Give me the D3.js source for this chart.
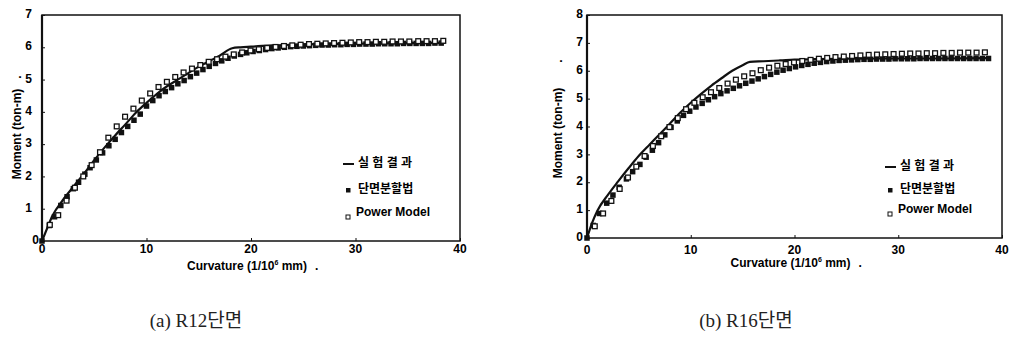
<!DOCTYPE html>
<html>
<head>
<meta charset="utf-8">
<script src="https://cdn.jsdelivr.net/npm/d3@7"></script>
<style>
  body { margin: 0; background: #fff; }
  svg { display: block; }
  .tick-label { font-family: "Liberation Sans", Arial, sans-serif; font-weight: 700; font-size: 12px; fill: #000; }
  .axis-title { font-family: "Liberation Sans", Arial, sans-serif; font-weight: 700; font-size: 12px; fill: #000; }
  .legend-text { font-family: "Liberation Sans", "Noto Sans CJK KR", sans-serif; font-weight: 700; font-size: 12px; fill: #000; }
  .caption { font-family: "Liberation Serif", "Noto Sans CJK KR", serif; font-size: 19px; fill: #222; }
</style>
</head>
<body>
<div id="chart"></div>
<script>
const xTicks = [0, 10, 20, 30, 40];
const r12YTicks = [0, 1, 2, 3, 4, 5, 6, 7];
const r16YTicks = [0, 1, 2, 3, 4, 5, 6, 7, 8];
const legendLabels = ['실 험 결 과', '단면분할법', 'Power Model'];
const captions = ['(a) R12단면', '(b) R16단면'];

// R12 - test result (solid line)
const r12TestX = [0, 0.5, 1, 2, 3, 4, 5, 6, 7, 8, 9, 10, 11, 12, 13, 14, 15, 16, 17, 18.2, 19, 20, 22, 25, 30, 35, 38.6];
const r12TestY = [0, 0.4, 0.78, 1.27, 1.68, 2.08, 2.5, 2.9, 3.27, 3.62, 3.98, 4.28, 4.56, 4.8, 5.0, 5.2, 5.4, 5.57, 5.74, 5.97, 6.0, 6.02, 6.06, 6.09, 6.11, 6.13, 6.14];
// R12 - section division method (filled squares)
const r12FiberX = [0, 0.7, 1.2, 1.8, 2.4, 3.0, 3.5, 4.1, 4.6, 5.2, 5.8, 6.4, 7.0, 7.6, 8.2, 8.8, 9.4, 10.0, 10.6, 11.2, 11.8, 12.4, 13.0, 13.6, 14.2, 14.8, 15.4, 16.0, 16.6, 17.2, 17.8, 18.4, 19.0, 19.6, 20.2, 20.8, 21.4, 22.0, 22.6, 23.2, 23.8, 24.4, 25.0, 25.6, 26.2, 26.8, 27.4, 28.0, 28.6, 29.2, 29.8, 30.4, 31.0, 31.6, 32.2, 32.8, 33.4, 34.0, 34.6, 35.2, 35.8, 36.4, 37.0, 37.6, 38.2];
const r12FiberY = [0, 0.48, 0.75, 1.1, 1.37, 1.62, 1.82, 2.07, 2.27, 2.51, 2.73, 2.95, 3.15, 3.36, 3.55, 3.74, 3.93, 4.18, 4.35, 4.5, 4.63, 4.75, 4.87, 4.97, 5.09, 5.2, 5.31, 5.41, 5.5, 5.58, 5.66, 5.73, 5.78, 5.83, 5.87, 5.9, 5.93, 5.96, 5.98, 6.0, 6.02, 6.03, 6.04, 6.05, 6.06, 6.07, 6.07, 6.08, 6.08, 6.09, 6.09, 6.1, 6.1, 6.1, 6.11, 6.11, 6.11, 6.11, 6.12, 6.12, 6.12, 6.12, 6.12, 6.13, 6.13];
// R12 - power model (open squares)
const r12PowerX = [0.75, 1.55, 2.35, 3.15, 3.95, 4.75, 5.55, 6.35, 7.15, 7.95, 8.75, 9.55, 10.35, 11.15, 11.95, 12.75, 13.55, 14.35, 15.15, 15.95, 16.75, 17.55, 18.35, 19.15, 19.95, 20.75, 21.55, 22.35, 23.15, 23.95, 24.75, 25.55, 26.35, 27.15, 27.95, 28.75, 29.55, 30.35, 31.15, 31.95, 32.75, 33.55, 34.35, 35.15, 36.0, 36.8, 37.6, 38.4];
const r12PowerY = [0.5, 0.8, 1.25, 1.65, 2.0, 2.35, 2.75, 3.2, 3.55, 3.85, 4.1, 4.35, 4.57, 4.77, 4.93, 5.08, 5.22, 5.34, 5.45, 5.55, 5.63, 5.71, 5.78, 5.84, 5.9, 5.94, 5.98, 6.01, 6.04, 6.06, 6.08, 6.1, 6.11, 6.12, 6.13, 6.14, 6.15, 6.16, 6.16, 6.17, 6.17, 6.18, 6.18, 6.18, 6.19, 6.19, 6.19, 6.2];

// R16 - test result (solid line)
const r16TestX = [0, 0.5, 1, 2, 3, 4, 5, 6, 7, 8, 9, 10, 11, 12, 13, 14, 15, 15.7, 17, 18.6, 20, 22, 25, 30, 35, 38.8];
const r16TestY = [0, 0.55, 0.98, 1.54, 2.03, 2.5, 2.95, 3.34, 3.72, 4.11, 4.5, 4.85, 5.17, 5.47, 5.74, 6.0, 6.2, 6.32, 6.34, 6.37, 6.4, 6.42, 6.43, 6.44, 6.44, 6.45];
// R16 - section division method (filled squares)
const r16FiberX = [0, 0.6, 1.2, 1.9, 2.5, 3.1, 3.8, 4.4, 5.1, 5.7, 6.3, 6.9, 7.5, 8.1, 8.7, 9.3, 9.9, 10.5, 11.1, 11.7, 12.3, 12.9, 13.5, 14.1, 14.7, 15.3, 15.9, 16.5, 17.1, 17.7, 18.3, 18.9, 19.5, 20.1, 20.7, 21.3, 21.9, 22.5, 23.1, 23.7, 24.3, 24.9, 25.5, 26.1, 26.7, 27.3, 27.9, 28.5, 29.1, 29.7, 30.3, 30.9, 31.5, 32.1, 32.7, 33.3, 33.9, 34.5, 35.1, 35.7, 36.3, 36.9, 37.5, 38.1, 38.7];
const r16FiberY = [0, 0.45, 0.88, 1.25, 1.54, 1.82, 2.12, 2.38, 2.64, 2.9, 3.15, 3.42, 3.7, 3.97, 4.2, 4.4, 4.55, 4.7, 4.83, 4.96, 5.07, 5.18, 5.28, 5.37, 5.46, 5.55, 5.63, 5.71, 5.79, 5.87, 5.95, 6.02, 6.08, 6.14, 6.19, 6.23, 6.27, 6.3, 6.33, 6.35, 6.37, 6.38, 6.39, 6.4, 6.41, 6.41, 6.42, 6.42, 6.42, 6.43, 6.43, 6.43, 6.43, 6.44, 6.44, 6.44, 6.44, 6.44, 6.44, 6.44, 6.44, 6.44, 6.44, 6.44, 6.44];
// R16 - power model (open squares)
const r16PowerX = [0.75, 1.55, 2.35, 3.15, 3.95, 4.75, 5.55, 6.35, 7.15, 7.95, 8.75, 9.55, 10.35, 11.15, 11.95, 12.75, 13.55, 14.35, 15.15, 15.95, 16.75, 17.55, 18.35, 19.15, 19.95, 20.75, 21.55, 22.35, 23.15, 23.95, 24.75, 25.55, 26.35, 27.15, 27.95, 28.75, 29.55, 30.35, 31.15, 31.95, 32.75, 33.55, 34.35, 35.15, 35.95, 36.75, 37.55, 38.35];
const r16PowerY = [0.42, 0.88, 1.33, 1.76, 2.17, 2.56, 2.94, 3.3, 3.65, 3.98, 4.3, 4.62, 4.85, 5.05, 5.23, 5.38, 5.54, 5.68, 5.8, 5.91, 6.02, 6.11, 6.18, 6.24, 6.3, 6.35, 6.39, 6.43, 6.46, 6.49, 6.51, 6.53, 6.55, 6.57, 6.58, 6.59, 6.6, 6.61, 6.62, 6.62, 6.63, 6.63, 6.64, 6.64, 6.65, 6.65, 6.65, 6.66];

const zip = (xs, ys) => xs.map((x, i) => ({ x, y: ys[i] }));

const width = 1010;
const height = 349;

const svg = d3.select('#chart')
  .append('svg')
  .attr('width', width)
  .attr('height', height);

const panels = [
  {
    left: 42, right: 460, top: 15, bottom: 241, yMax: 7, yTicks: r12YTicks,
    test: zip(r12TestX, r12TestY), fiber: zip(r12FiberX, r12FiberY), power: zip(r12PowerX, r12PowerY),
    yLabelOffset: 10, zeroLabelOffset: 3, xLabelY: 250, xTitleY: 267, yTitleX: 18, yTitleY: 134, yDotY: 77,
    legendTop: 164, legendGap: 26, caption: captions[0], captionX: 196
  },
  {
    left: 587, right: 1002, top: 15, bottom: 238, yMax: 8, yTicks: r16YTicks,
    test: zip(r16TestX, r16TestY), fiber: zip(r16FiberX, r16FiberY), power: zip(r16PowerX, r16PowerY),
    yLabelOffset: 4, zeroLabelOffset: 4, xLabelY: 251, xTitleY: 264, yTitleX: 559, yTitleY: 133, yDotY: 61,
    legendTop: 167, legendGap: 23, caption: captions[1], captionX: 746
  }
];

panels.forEach((p) => {
  const x = d3.scaleLinear().domain([0, 40]).range([p.left, p.right]);
  const y = d3.scaleLinear().domain([0, p.yMax]).range([p.bottom, p.top]);
  const g = svg.append('g');

  // frame
  g.append('rect')
    .attr('x', p.left).attr('y', p.top)
    .attr('width', p.right - p.left).attr('height', p.bottom - p.top)
    .attr('fill', 'none').attr('stroke', '#111').attr('stroke-width', 1.5);
  g.append('line')
    .attr('x1', p.left).attr('x2', p.left)
    .attr('y1', p.top).attr('y2', p.bottom)
    .attr('stroke', '#111').attr('stroke-width', 2.2);

  // tick marks
  g.append('g')
    .attr('transform', `translate(0,${p.bottom})`)
    .call(d3.axisTop(x).tickValues(xTicks).tickSize(3).tickFormat(''))
    .call((a) => a.select('.domain').remove())
    .selectAll('line').attr('stroke', '#111');

  g.append('g')
    .attr('transform', `translate(${p.left},0)`)
    .call(d3.axisRight(y).tickValues(p.yTicks).tickSize(3).tickFormat(''))
    .call((a) => a.select('.domain').remove())
    .selectAll('line').attr('stroke', '#111');

  g.selectAll('.xlab')
    .data(xTicks)
    .join('text')
    .attr('class', 'tick-label')
    .attr('x', (d) => x(d))
    .attr('y', p.xLabelY)
    .attr('text-anchor', 'middle')
    .attr('dominant-baseline', 'middle')
    .text((d) => d);

  g.selectAll('.ylab')
    .data(p.yTicks)
    .join('text')
    .attr('class', 'tick-label')
    .attr('x', (d) => p.left - (d === 0 ? p.zeroLabelOffset : p.yLabelOffset))
    .attr('y', (d) => y(d))
    .attr('text-anchor', 'end')
    .attr('dominant-baseline', 'middle')
    .text((d) => d);

  // axis titles
  const cx = (p.left + p.right) / 2 - 4;
  const xt = g.append('text')
    .attr('class', 'axis-title')
    .attr('x', cx)
    .attr('y', p.xTitleY)
    .attr('text-anchor', 'middle')
    .attr('dominant-baseline', 'middle');
  xt.append('tspan').text('Curvature (1/10');
  xt.append('tspan').attr('font-size', 7).attr('dy', -4).text('6');
  xt.append('tspan').attr('dy', 4).text(' mm)');
  const xtBox = xt.node().getBBox();
  g.append('text')
    .attr('class', 'axis-title')
    .attr('x', xtBox.x + xtBox.width + 8)
    .attr('y', p.xTitleY)
    .attr('dominant-baseline', 'middle')
    .text('.');

  g.append('text')
    .attr('class', 'axis-title')
    .attr('transform', `translate(${p.yTitleX},${p.yTitleY}) rotate(-90)`)
    .attr('text-anchor', 'middle')
    .attr('dominant-baseline', 'middle')
    .text('Moment (ton-m)');
  g.append('text')
    .attr('class', 'axis-title')
    .attr('transform', `translate(${p.yTitleX},${p.yDotY}) rotate(-90)`)
    .attr('text-anchor', 'middle')
    .attr('dominant-baseline', 'middle')
    .text('.');

  // test result line
  const line = d3.line().x((d) => x(d.x)).y((d) => y(d.y)).curve(d3.curveMonotoneX);
  g.append('path')
    .datum(p.test)
    .attr('d', line)
    .attr('fill', 'none')
    .attr('stroke', '#111')
    .attr('stroke-width', 2.2);

  // section division method - filled squares
  const s = 5.5;
  g.selectAll('.fiber')
    .data(p.fiber)
    .join('rect')
    .attr('x', (d) => x(d.x) - s / 2)
    .attr('y', (d) => y(d.y) - s / 2)
    .attr('width', s).attr('height', s)
    .attr('fill', '#111');

  // power model - open squares
  const o = 4.8;
  g.selectAll('.power')
    .data(p.power)
    .join('rect')
    .attr('x', (d) => x(d.x) - o / 2)
    .attr('y', (d) => y(d.y) - o / 2)
    .attr('width', o).attr('height', o)
    .attr('fill', '#fff')
    .attr('stroke', '#111')
    .attr('stroke-width', 1.3);

  // legend
  const lx = p.right - 117;
  const lg = g.append('g');
  lg.append('line')
    .attr('x1', lx).attr('x2', lx + 11)
    .attr('y1', p.legendTop).attr('y2', p.legendTop)
    .attr('stroke', '#111').attr('stroke-width', 2);
  lg.append('rect')
    .attr('x', lx + 3).attr('y', p.legendTop + p.legendGap - 2)
    .attr('width', 4.5).attr('height', 4.5)
    .attr('fill', '#111');
  lg.append('rect')
    .attr('x', lx + 3).attr('y', p.legendTop + 2 * p.legendGap - 1)
    .attr('width', 4).attr('height', 4)
    .attr('fill', '#fff').attr('stroke', '#111').attr('stroke-width', 1);
  lg.selectAll('.ltext')
    .data(legendLabels)
    .join('text')
    .attr('class', 'legend-text')
    .attr('x', (d, i) => lx + (i === 2 ? 13 : 15))
    .attr('y', (d, i) => p.legendTop + i * p.legendGap - (i === 2 ? 3 : 0))
    .attr('dominant-baseline', 'middle')
    .text((d) => d);

  // caption
  svg.append('text')
    .attr('class', 'caption')
    .attr('x', p.captionX)
    .attr('y', 323)
    .attr('text-anchor', 'middle')
    .attr('dominant-baseline', 'middle')
    .text(p.caption);
});
</script>
</body>
</html>
